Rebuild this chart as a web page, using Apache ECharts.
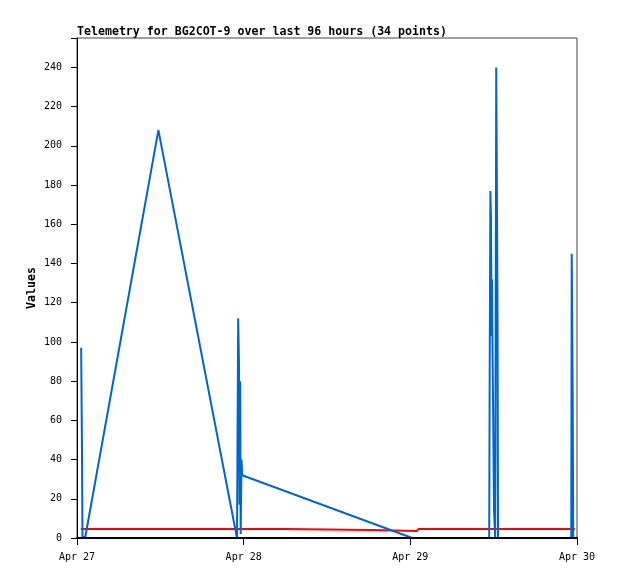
<!DOCTYPE html>
<html>
<head>
<meta charset="utf-8">
<script src="https://cdn.jsdelivr.net/npm/echarts@6/dist/echarts.min.js"></script>
<style>html,body{margin:0;padding:0;background:#fff;}#c{width:618px;height:579px;}</style>
</head>
<body>
<div id="c"></div>
<script>
// x values are hours after Apr 27 00:00
var xTickLabels = ['Apr 27', 'Apr 28', 'Apr 29', 'Apr 30'];
var blueHours = [0.60, 0.71, 0.79, 1.22, 11.72, 23.04, 23.21, 23.33, 23.40, 23.50, 23.57, 23.69, 23.79, 48.27,
  59.36, 59.43, 59.53, 59.62, 59.69, 59.76, 59.83, 59.90, 59.98, 60.05, 60.22, 60.37, 60.55, 60.63,
  71.17, 71.24, 71.38, 71.46];
var blueValues = [97, 48, 0, 1, 208, 0, 112, 88, 17, 80, 2, 40, 32, 0,
  0, 88, 177, 162, 103, 132, 98, 73, 44, 14, 0, 240, 120, 0,
  0, 145, 73, 0];
var redHours = [0.55, 29.9, 30.1, 42.4, 42.6, 48.9, 49.2, 71.7];
var redValues = [4.6, 4.6, 4.1, 4.1, 3.6, 3.6, 4.6, 4.6];

function zip(a, b) { return a.map(function (v, i) { return [v, b[i]]; }); }

var chart = echarts.init(document.getElementById('c'), null, { renderer: 'canvas' });
var mono = 'DejaVu Sans Mono';
chart.setOption({
  animation: false,
  backgroundColor: '#ffffff',
  title: {
    text: 'Telemetry for BG2COT-9 over last 96 hours (34 points)',
    left: 77, top: 26, padding: 0,
    textStyle: { fontFamily: mono, fontWeight: 'bold', fontSize: 11.6, color: '#000' }
  },
  grid: {
    left: 77, right: 41, top: 38, bottom: 41,
    show: true, borderColor: '#444', borderWidth: 1, backgroundColor: 'transparent'
  },
  xAxis: {
    type: 'value', min: 0, max: 72, interval: 24, z: 10,
    axisLine: { show: true, onZero: false, lineStyle: { color: '#000', width: 2 } },
    axisTick: { show: true, length: 7, lineStyle: { color: '#000' } },
    splitLine: { show: false },
    axisLabel: {
      margin: 14, fontFamily: mono, fontSize: 10, color: '#000',
      formatter: function (v) { return xTickLabels[Math.round(v / 24)]; }
    }
  },
  yAxis: {
    type: 'value', min: 0, max: 255, interval: 20, z: 10,
    name: 'Values', nameLocation: 'middle', nameRotate: 90, nameGap: 39,
    nameMoveOverlap: false,
    nameTextStyle: { fontFamily: mono, fontWeight: 'bold', fontSize: 11.6, color: '#000' },
    axisLine: { show: true, lineStyle: { color: '#000', width: 1 } },
    axisTick: { show: true, length: 6, lineStyle: { color: '#000' } },
    splitLine: { show: false },
    axisLabel: {
      margin: 15, fontFamily: mono, fontSize: 10, color: '#000',
      formatter: function (v) { return v > 240 ? '' : String(v); }
    }
  },
  series: [
    {
      type: 'line', data: zip(redHours, redValues), showSymbol: false,
      lineStyle: { color: '#ff0000', width: 2 }, z: 2
    },
    {
      type: 'line', data: zip(blueHours, blueValues), showSymbol: false,
      lineStyle: { color: '#0066cc', width: 2 }, z: 3
    }
  ]
});
</script>
</body>
</html>
